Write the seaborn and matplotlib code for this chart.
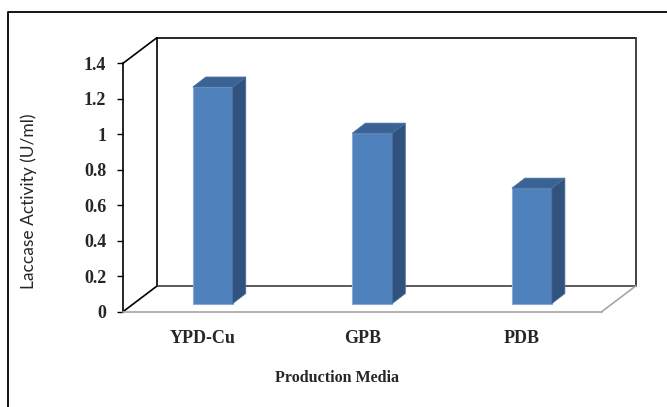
import matplotlib
matplotlib.use("Agg")
import matplotlib.pyplot as plt
from matplotlib.lines import Line2D
from matplotlib.patches import Polygon
from matplotlib.transforms import offset_copy
import seaborn as sns
import pandas as pd

# Laccase activity per production medium
media = ["YPD-Cu", "GPB", "PDB"]
activity = [1.22, 0.96, 0.65]
yticks = [0, 0.2, 0.4, 0.6, 0.8, 1, 1.2, 1.4]
ytick_labels = ["0", "0.2", "0.4", "0.6", "0.8", "1", "1.2", "1.4"]

sns.set_style("white")
plt.rcParams["font.family"] = ["Liberation Serif", "DejaVu Serif"]

W, H = 667, 407
fig = plt.figure(figsize=(W / 100, H / 100), dpi=100)

# front plane of the 3-D box, in pixel coordinates
x0, x1 = 123, 601.7
y0, y1 = 311.7, 63.3
ax = fig.add_axes([x0 / W, 1 - y0 / H, (x1 - x0) / W, (y0 - y1) / H])
ax.set_facecolor("none")

df = pd.DataFrame({"media": media, "activity": activity})
front_col = "#4F81BD"
side_col = "#31527C"
top_col = "#3A6395"
sns.barplot(data=df, x="media", y="activity", width=0.25, color=front_col,
            saturation=1, edgecolor="#86A9D6", linewidth=0.8, ax=ax, zorder=5)

ax.set_xlim(-0.5, 2.5)
ax.set_ylim(0, 1.4)
ax.set_yticks(yticks)
ax.set_yticklabels(ytick_labels, fontsize=13, fontweight="bold")
ax.set_xticks(range(len(media)))
ax.set_xticklabels(media, fontsize=13, fontweight="bold")
ax.tick_params(axis="x", length=0, pad=13)
ax.tick_params(axis="y", length=4, width=1, color="black", pad=8, direction="out", left=True)
ax.set_xlabel("")
ax.set_ylabel("")
for s in ["top", "right"]:
    ax.spines[s].set_visible(False)
ax.spines["left"].set_color("black")
ax.spines["left"].set_linewidth(1.2)
ax.spines["bottom"].set_color("#A6A6A6")
ax.spines["bottom"].set_linewidth(1.2)

# depth of the box (dots) and of the bars
DX, DY = 34, 25.7
BX, BY = 10, 8.2
SX, SY = 13, 10

back = offset_copy(ax.transData, fig=fig, x=DX, y=DY, units="dots")
bar_tr = offset_copy(ax.transData, fig=fig, x=BX, y=BY, units="dots")

xl, xr = -0.5, 2.5
# back wall
ax.add_line(Line2D([xl, xl, xr], [0, 1.4, 1.4], color="black", lw=1.2, transform=back, clip_on=False, zorder=1))
ax.add_line(Line2D([xr, xr], [1.4, 0], color="#404040", lw=1.4, transform=back, clip_on=False, zorder=1))
ax.add_line(Line2D([xl, xr], [0, 0], color="#595959", lw=1.4, transform=back, clip_on=False, zorder=1))

# connecting edges between front plane and back wall
def depth_edge(x, y, color):
    p0 = ax.transData.transform((x, y))
    p1 = p0 + [DX, DY]
    inv = ax.transData.inverted()
    a, b = inv.transform(p0), inv.transform(p1)
    ax.add_line(Line2D([a[0], b[0]], [a[1], b[1]], color=color, lw=1.2, clip_on=False, zorder=1))

depth_edge(xl, 1.4, "black")
depth_edge(xl, 0, "black")
depth_edge(xr, 0, "#A6A6A6")

# bars: shift front faces into the box and add side / top faces
inv = ax.transData.inverted()
for p in ax.patches:
    p.set_transform(bar_tr)
    bx, by, bw, bh = p.get_x(), p.get_y(), p.get_width(), p.get_height()
    corners = [(bx, by + bh), (bx + bw, by + bh), (bx + bw, by)]
    disp = [bar_tr.transform(c) for c in corners]
    tl, tr_, br = disp
    side = [tr_, tr_ + [SX, SY], br + [SX, SY], br]
    top = [tl, tl + [SX, SY], tr_ + [SX, SY], tr_]
    ax.add_patch(Polygon(inv.transform(side), closed=True, facecolor=side_col,
                         edgecolor="#4A6E9C", lw=0.6, clip_on=False, zorder=5))
    ax.add_patch(Polygon(inv.transform(top), closed=True, facecolor=top_col,
                         edgecolor="#4A6E9C", lw=0.6, clip_on=False, zorder=5))

# axis titles
fig.text(29 / W, 1 - 201.5 / H, "Laccase Activity (U/ml)", rotation=90,
         ha="center", va="center", fontsize=12.5, family=["Lato", "DejaVu Sans"])
fig.text(336.7 / W, 1 - 377.5 / H, "Production Media", ha="center", va="center",
         fontsize=11.5, fontweight="bold")

# outer chart border
fig.add_artist(Line2D([8 / W, 8 / W, 1.0], [0, 1 - 12 / H, 1 - 12 / H],
                      color="black", lw=1.3, transform=fig.transFigure))

fig.savefig("out.png", dpi=100)
